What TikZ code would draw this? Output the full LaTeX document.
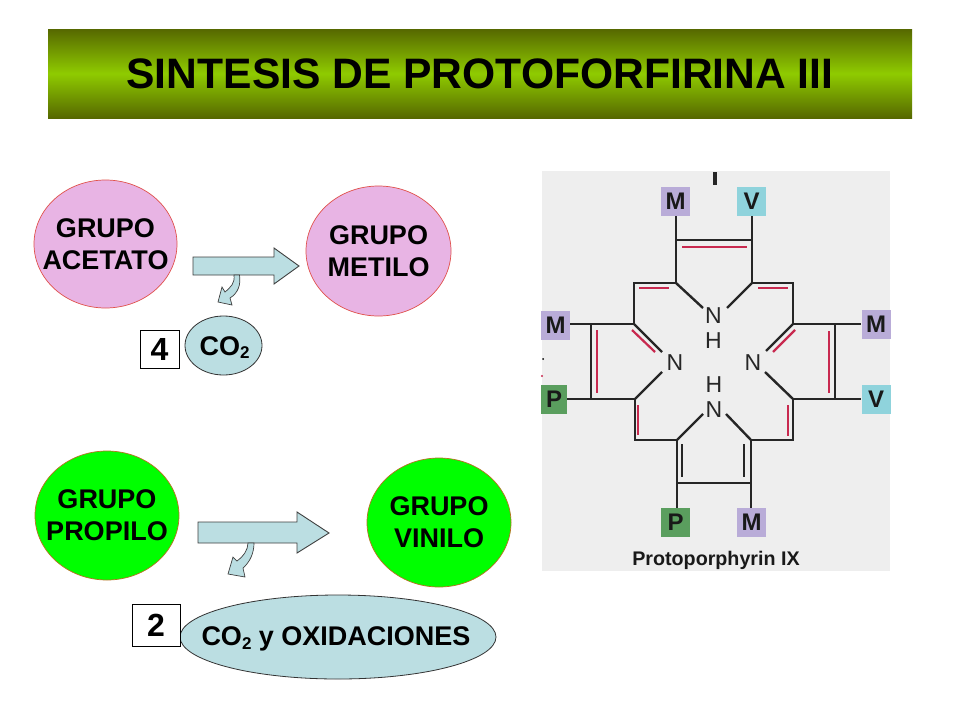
\documentclass[tikz,border=0pt]{standalone}
\usepackage{fontspec}
\setmainfont{Liberation Sans}
\usetikzlibrary{shapes.geometric}
\definecolor{pinkfill}{HTML}{E8B4E4}
\definecolor{greenfill}{HTML}{00FF00}
\definecolor{bluefill}{HTML}{BBDEE2}
\definecolor{panel}{HTML}{EEEEEE}
\definecolor{hdtop}{HTML}{566800}
\definecolor{hdmid}{HTML}{8FCB00}
\definecolor{bondred}{HTML}{C8294F}
\definecolor{boxM}{HTML}{B9ACD8}
\definecolor{boxV}{HTML}{8FD3DC}
\definecolor{boxP}{HTML}{5A9E5E}
\definecolor{pinkline}{HTML}{E0504A}
\definecolor{greenline}{HTML}{B87020}
\newcommand{\subtwo}{\raisebox{-3.5pt}{\fontsize{17}{17}\selectfont 2}}
\tikzset{
  x=1pt,y=-1pt,
  blobtext/.style={align=center,inner sep=0pt,font=\fontsize{27}{32}\selectfont\bfseries,text=black},
  blob/.style={ellipse,inner sep=0pt},
  pinkblob/.style={blob,draw=pinkline,fill=pinkfill,line width=.7pt},
  greenblob/.style={blob,draw=greenline,fill=greenfill,line width=.7pt},
  blueblob/.style={blob,draw=black!80,fill=bluefill,line width=.8pt},
  countbox/.style={draw=black,fill=white,line width=1pt,inner sep=0pt,font=\fontsize{32}{32}\selectfont\bfseries},
  arrowshape/.style={draw=black!75,fill=bluefill,line width=.9pt,line join=miter},
  subst/.style={inner sep=0pt,minimum width=29pt,minimum height=29pt,font=\fontsize{24}{24}\selectfont\bfseries,text=black!90},
  atom/.style={inner sep=0pt,font=\fontsize{23}{23}\selectfont,text=black!85},
  bond/.style={draw=black!85,line width=2.4pt},
  redbond/.style={draw=bondred,line width=2.2pt},
}
\begin{document}
\begin{tikzpicture}
\useasboundingbox (0,0) rectangle (960,720);
\fill[white] (0,0) rectangle (960,720);
% header
\shade[top color=hdtop,bottom color=hdtop,middle color=hdmid] (48,29) rectangle (912,118);
\node[font=\fontsize{42.6}{42.6}\selectfont\bfseries] (title) at (480,74) {SINTESIS DE PROTOFORFIRINA III};
% left diagrams
\node[pinkblob,minimum width=143pt,minimum height=128pt] (acet) at (105.5,244) {};
\node[blobtext] (acett) at (acet) {GRUPO\\ACETATO};
\node[pinkblob,minimum width=145pt,minimum height=130pt] (meti) at (378.5,251) {};
\node[blobtext] (metit) at (meti) {GRUPO\\METILO};
\node[greenblob,minimum width=144pt,minimum height=129pt] (prop) at (107,515.5) {};
\node[blobtext] (propt) at (prop) {GRUPO\\PROPILO};
\node[greenblob,minimum width=144pt,minimum height=129pt] (vini) at (439,522.5) {};
\node[blobtext] (vinit) at (vini) {GRUPO\\VINILO};
\node[blueblob,minimum width=77pt,minimum height=59pt] (co2a) at (223.5,345.5) {};
\node[blobtext] (co2at) at (224.5,347.5) {CO\subtwo};
\node[blueblob,minimum width=316pt,minimum height=84pt] (co2b) at (338,637) {};
\node[blobtext] (co2bt) at (336,639) {CO\subtwo\ y OXIDACIONES};
\node[countbox,minimum width=39pt,minimum height=38pt] (four) at (159.5,349) {4};
\node[countbox,minimum width=48pt,minimum height=42pt] (two) at (156,625) {2};
% block arrows
\draw[arrowshape] (193,257) -- (274,257) -- (274,248) -- (299,266) -- (274,284) -- (274,275) -- (193,275) -- cycle;
\draw[arrowshape] (198,522) -- (297,522) -- (297,512) -- (329,533) -- (297,553) -- (297,543) -- (198,543) -- cycle;
\draw[arrowshape,line width=.7pt] (234,275) -- (239.5,275) .. controls (241,285) and (238,293) .. (230,298) -- (232,305) -- (218,302) -- (222,287) -- (225,292) .. controls (231,287) and (235,283) .. (234,275) -- cycle;
\draw[arrowshape,line width=.7pt] (248,543) -- (254,543) .. controls (254,553) and (250,562) .. (243,568) -- (245,577) -- (228,574) -- (233,557) -- (237,561) .. controls (243,557) and (248,550) .. (248,543) -- cycle;
% molecule panel
\fill[panel] (542,171) rectangle (890,571);
\draw[black!85,line width=3.5pt] (715,172) -- (715,185);
\fill[black] (543,359) circle (1pt);
\fill[bondred] (542,376) circle (1.2pt);
% substituent boxes
\node[subst,fill=boxM] (mt) at (675.5,201.5) {M};
\node[subst,fill=boxV] (vt) at (751.5,201.5) {V};
\node[subst,fill=boxM] (ml) at (555.5,325) {M};
\node[subst,fill=boxM] (mr) at (876,324.5) {M};
\node[subst,fill=boxP,minimum width=26pt] (pl) at (554,399.5) {P};
\node[subst,fill=boxV] (vr) at (876,399.5) {V};
\node[subst,fill=boxP] (pb) at (675.5,522.5) {P};
\node[subst,fill=boxM] (mb) at (751.5,522.5) {M};
% atoms
\node[atom] (nt) at (713.5,316) {N};
\node[atom] (ht) at (713.5,341) {H};
\node[atom] (nl) at (675,363) {N};
\node[atom] (nr) at (753,363) {N};
\node[atom] (hb) at (714,385) {H};
\node[atom] (nb) at (714,410) {N};
\node[font=\fontsize{19.7}{19.7}\selectfont\bfseries,text=black!90] (cap) at (716,560) {Protoporphyrin IX};
% vertices
\coordinate (a1) at (676,240); \coordinate (a2) at (752,240);
\coordinate (b1) at (676,283); \coordinate (b2) at (752,283);
\coordinate (c1) at (634,283); \coordinate (c2) at (793,283);
\coordinate (d1) at (634,324); \coordinate (d2) at (793,324);
\coordinate (e1) at (591,324); \coordinate (e2) at (835,324);
\coordinate (f1) at (591,399); \coordinate (f2) at (835,399);
\coordinate (g1) at (635,399); \coordinate (g2) at (793,399);
\coordinate (k1) at (635,440); \coordinate (k2) at (793,440);
\coordinate (l1) at (677,440); \coordinate (l2) at (751,440);
\coordinate (q1) at (677,483); \coordinate (q2) at (751,483);
\coordinate (nta) at (703,308); \coordinate (ntb) at (727,308);
\coordinate (nla) at (662,352); \coordinate (nlb) at (662,372);
\coordinate (nra) at (766,351); \coordinate (nrb) at (765,372);
\coordinate (nba) at (703,414); \coordinate (nbb) at (726,414);
% bonds
\draw[bond] (mt.south -| a1) -- (b1) -- (c1) -- (d1) -- (e1) -- (f1) -- (g1) -- (k1) -- (l1) -- (q1) -- (q2) -- (l2) -- (k2) -- (g2) -- (f2) -- (e2) -- (d2) -- (c2) -- (b2) -- (vt.south -| a2);
\draw[bond] (a1) -- (a2);
\draw[bond] (e1) -- (ml.east |- e1);
\draw[bond] (e2) -- (mr.west |- e2);
\draw[bond] (f1) -- (pl.east |- f1);
\draw[bond] (f2) -- (vr.west |- f2);
\draw[bond] (q1) -- (pb.north -| q1);
\draw[bond] (q2) -- (mb.north -| q2);
\draw[bond] (b1) -- (nta);
\draw[bond] (b2) -- (ntb);
\draw[bond] (d1) -- (nla);
\draw[bond] (d2) -- (nra);
\draw[bond] (g1) -- (nlb);
\draw[bond] (g2) -- (nrb);
\draw[bond] (l1) -- (nba);
\draw[bond] (l2) -- (nbb);
% second lines of the double bonds
\draw[redbond] (682,247) -- (747,247);
\draw[redbond] (639,288) -- (669,288);
\draw[redbond] (758,288) -- (788,288);
\draw[redbond] (597,330) -- (597,393);
\draw[redbond] (829,331) -- (829,393);
\draw[redbond] (638,405) -- (638,435);
\draw[redbond] (788,405) -- (788,436);
\draw[redbond] (795,330) -- (773,352);
\draw[redbond] (632,330) -- (655,352);
\draw[bond] (682,444) -- (682,477);
\draw[bond] (744,444) -- (744,477);
\end{tikzpicture}
\end{document}
